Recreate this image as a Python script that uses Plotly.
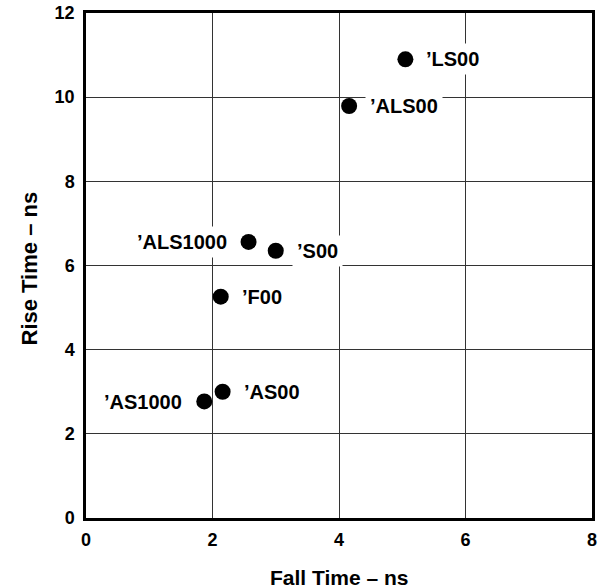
import plotly.graph_objects as go

devices = ["’LS00", "’ALS00", "’ALS1000", "’S00", "’F00", "’AS1000", "’AS00"]
fall_time = [5.05, 4.16, 2.57, 3.00, 2.13, 1.87, 2.16]
rise_time = [10.90, 9.79, 6.56, 6.35, 5.26, 2.77, 3.00]
label_side = ["right", "right", "left", "right", "right", "left", "right"]
label_dy = [0, 0, 0, 0, 0, -1, 0]

x_ticks = [0, 2, 4, 6, 8]
y_ticks = [0, 2, 4, 6, 8, 10, 12]

FONT = "Liberation Sans, Arial, Helvetica, sans-serif"

fig = go.Figure()
fig.add_trace(go.Scatter(
    x=fall_time, y=rise_time, mode="markers",
    marker=dict(size=16, color="black"),
    hoverinfo="skip", showlegend=False,
))

annotations = []
for name, xv, yv, side, dy in zip(devices, fall_time, rise_time, label_side, label_dy):
    annotations.append(dict(
        x=xv, y=yv, xref="x", yref="y", text="<b>%s</b>" % name,
        showarrow=False,
        xanchor="left" if side == "right" else "right",
        xshift=16 if side == "right" else -17,
        yshift=dy,
        bgcolor="white", borderpad=4,
        font=dict(family=FONT, size=20, color="black"),
    ))
# axis titles
annotations.append(dict(
    x=0.5, y=0, xref="paper", yref="paper", text="<b>Fall Time – ns</b>",
    showarrow=False, xanchor="center", yanchor="middle", yshift=-59,
    font=dict(family=FONT, size=21, color="black"),
))
annotations.append(dict(
    x=0, y=0.5, xref="paper", yref="paper", text="<b>Rise Time – ns</b>",
    showarrow=False, xanchor="center", yanchor="middle", xshift=-57, yshift=-3,
    textangle=-90,
    font=dict(family=FONT, size=22, color="black"),
))
fig.update_layout(annotations=annotations)

axis_common = dict(
    showline=True, linecolor="black", linewidth=2.5, mirror=True,
    showgrid=True, gridcolor="#333333", gridwidth=1,
    zeroline=False, ticks="", automargin=False,
    tickfont=dict(family=FONT, size=18, color="black", weight="bold"),
)
fig.update_xaxes(range=[0, 8], tickvals=x_ticks, ticktext=["<b>%d</b>" % v for v in x_ticks],
                 ticklabelstandoff=4, **axis_common)
fig.update_yaxes(range=[0, 12], tickvals=y_ticks, ticktext=["<b>%d</b>" % v for v in y_ticks],
                 ticklabelstandoff=5, **axis_common)

fig.update_layout(
    width=603, height=588,
    margin=dict(l=86, r=11, t=13, b=70),
    plot_bgcolor="white", paper_bgcolor="white",
)
fig.write_html(
    "out.html",
    config={"displayModeBar": False},
    post_script="document.body.style.margin='0';document.body.style.overflow='hidden';",
)
